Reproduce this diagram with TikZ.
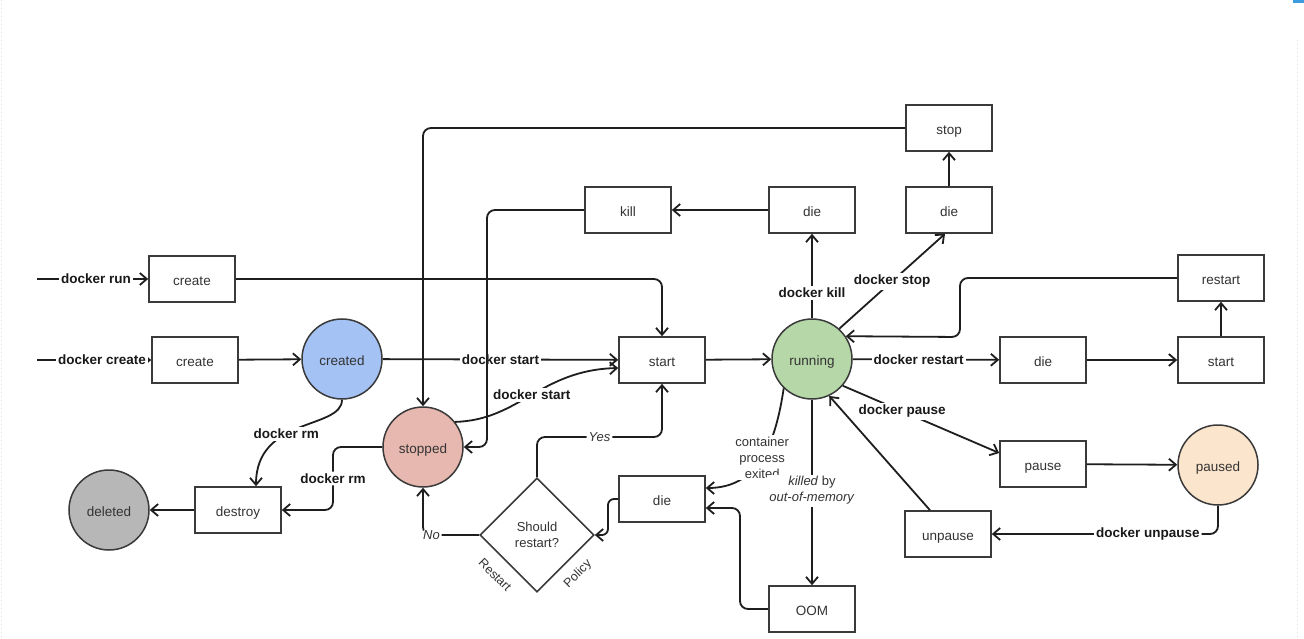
\documentclass[tikz,border=0pt]{standalone}
\usepackage{fontspec}
\setmainfont{Liberation Sans}
\usetikzlibrary{arrows.meta,shapes.geometric}
\definecolor{boxc}{HTML}{3A3A3A}
\definecolor{linec}{HTML}{1E1E1E}
\definecolor{txtc}{HTML}{333333}
\definecolor{cblue}{HTML}{A4C2F4}
\definecolor{cgreen}{HTML}{B6D7A8}
\definecolor{cred}{HTML}{E6B8AF}
\definecolor{corange}{HTML}{FCE5CD}
\definecolor{cgray}{HTML}{B7B7B7}
\definecolor{bluebar}{HTML}{3D9BE0}
\definecolor{gridc}{HTML}{D8DEE6}
\begin{document}
\begin{tikzpicture}[x=1pt,y=-1pt,
  box/.style={draw=boxc, line width=1.6pt, fill=white, minimum width=86pt, minimum height=46pt,
    inner sep=0pt, text height=13pt, text depth=0pt, font=\fontsize{13.5}{15}\selectfont, text=txtc},
  state/.style={circle, draw=boxc, line width=1.5pt, minimum size=80pt, inner sep=0pt,
    text height=12pt, text depth=0pt, font=\fontsize{13.5}{15}\selectfont, text=txtc},
  conn/.style={draw=linec, line width=1.8pt, -{Straight Barb[length=7pt,width=12pt]}},
  lbl/.style={fill=white, inner sep=2pt, font=\bfseries\fontsize{13.5}{16}\selectfont, text=black!90},
  ilbl/.style={fill=white, inner sep=2pt, font=\itshape\fontsize{13}{15}\selectfont, text=txtc},
  nlbl/.style={fill=white, inner sep=2pt, align=center, font=\fontsize{13}{16}\selectfont, text=txtc},
  dlbl/.style={inner sep=0pt, font=\fontsize{12.5}{15}\selectfont, text=txtc}
]
\useasboundingbox (0,0) rectangle (1304,639);
\fill[white] (0,0) rectangle (1304,639);
% screenshot edge marks
\fill[bluebar] (1293,0) rectangle (1304,3);
\draw[gridc, line width=0.8pt, dash pattern=on 1pt off 3pt] (1.5,0) -- (1.5,639);
\draw[gridc, line width=0.8pt, dash pattern=on 1pt off 3pt] (1297,40) -- (1297,639);

% nodes
\node[box] (stop) at (949,128) {stop};
\node[box] (die2) at (949,210) {die};
\node[box] (die1) at (812,210) {die};
\node[box] (kill) at (628,210) {kill};
\node[box] (create1) at (192,279) {create};
\node[box] (restart) at (1221,278) {restart};
\node[box] (create2) at (195,360) {create};
\node[state, fill=cblue] (created) at (342,359) {created};
\node[box] (start) at (662,360) {start};
\node[state, fill=cgreen] (running) at (812,359) {running};
\node[box] (die3) at (1043,360) {die};
\node[box] (start2) at (1221,360) {start};
\node[state, fill=cred] (stopped) at (423,447) {stopped};
\node[box] (pause) at (1043,464) {pause};
\node[state, fill=corange] (paused) at (1218,465) {paused};
\node[state, fill=cgray] (deleted) at (109,510) {deleted};
\node[box] (destroy) at (238,510) {destroy};
\node[box] (die4) at (662,499) {die};
\node[diamond, aspect=1, draw=boxc, line width=1.6pt, minimum width=114pt, minimum height=114pt,
  inner sep=0pt, align=center, font=\fontsize{13}{16}\selectfont, text=txtc] (restartq) at (537,535) {Should\\restart?};
\node[dlbl, rotate=-45] (lrestart) at (495,575) {Restart};
\node[dlbl, rotate=45] (lpolicy) at (578,574) {Policy};
\node[box] (unpause) at (948,534) {unpause};
\node[box] (oom) at (812,609) {OOM};

\coordinate (runin) at (37,279);
\coordinate (createin) at (37,360);

% connectors
\draw[conn] (runin) -- node[lbl, pos=0.53]{docker run} (create1);
\draw[conn] (createin) -- node[lbl, pos=0.57]{docker create} (create2);
\draw[conn, rounded corners=8pt] (create1.east) -- (start.north |- create1.east) -- (start.north);
\draw[conn] (create2) -- (created);
\draw[conn] (created) -- node[lbl]{docker start} (start);
\draw[conn] (created.south) .. controls +(0,30) and +(0,-70) .. node[lbl, pos=0.6]{docker rm} ([xshift=18pt]destroy.north);
\draw[conn, rounded corners=8pt] (stopped.west) -- (333,447) -- node[lbl]{docker rm} (333,510) -- (destroy.east);
\draw[conn] (destroy) -- (deleted);
\draw[conn, rounded corners=8pt] (stop.west) -- (stopped.north |- stop.west) -- (stopped.north);
\draw[conn, rounded corners=8pt] (kill.west) -- (487,210) -- (487,447) -- (stopped.east);
\draw[conn] (stopped.38) .. controls (520,420) and (540,370) .. node[lbl]{docker start} ([yshift=-8pt]start.west);
\draw[conn, rounded corners=8pt] (restartq.north) -- (537,437) -- node[ilbl]{Yes} (662,437) -- (start.south);
\draw[conn, rounded corners=8pt] (restartq.west) -- node[ilbl, pos=0.85]{No} (423,535) -- (stopped.south);
\draw[conn, rounded corners=6pt] (die4.west) -- (608,499) -- (608,535) -- (restartq.east);
\draw[conn] (running.226) .. controls (776,440) and (760,488) .. node[nlbl]{container\\process\\exited} ([yshift=11pt]die4.east);
\draw[conn] (running.south) -- node[nlbl, pos=0.49]{\textit{killed} by\\\textit{out-of-memory}} (oom.north);
\draw[conn, rounded corners=8pt] (oom.west) -- (740,609) -- (740,508) -- ([yshift=-9pt]die4.east);
\draw[conn] (start) -- (running);
\draw[conn] (running.north) -- node[lbl, pos=0.3]{docker kill} (die1.south);
\draw[conn] (die1) -- (kill);
\draw[conn] (running.48) -- node[lbl]{docker stop} ([xshift=-4pt]die2.south);
\draw[conn] (die2) -- (stop);
\draw[conn] (running) -- node[lbl, pos=0.45]{docker restart} (die3);
\draw[conn] (die3) -- (start2);
\draw[conn] (start2) -- (restart);
\draw[conn, rounded corners=8pt] (restart.west) -- (960,278) -- (960,337) -- (running.34);
\draw[conn] (running.-41) -- node[lbl, pos=0.38]{docker pause} ([yshift=11pt]pause.west);
\draw[conn] (pause) -- (paused);
\draw[conn, rounded corners=8pt] (paused.south) -- (1218,534) -- node[lbl, pos=0.31]{docker unpause} (unpause.east);
\draw[conn] ([xshift=-18pt]unpause.north) -- (running.-65);
\end{tikzpicture}
\end{document}
